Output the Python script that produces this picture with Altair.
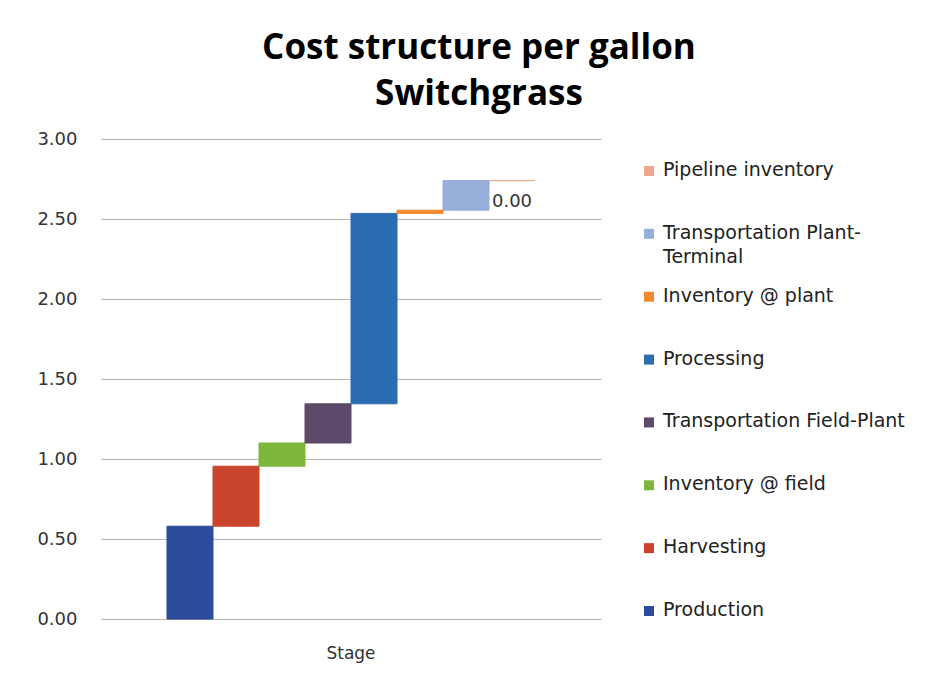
import altair as alt
import pandas as pd

# Cost components per gallon (USD), in processing order
series = [
    "Production",
    "Harvesting",
    "Inventory @ field",
    "Transportation Field-Plant",
    "Processing",
    "Inventory @ plant",
    "Transportation Plant-Terminal",
    "Pipeline inventory",
]
costs = [0.58, 0.375, 0.145, 0.245, 1.19, 0.02, 0.185, 0.00]
colors = ["#2b4b9b", "#c8442c", "#7db83c", "#5d4a6a", "#2c6cb0", "#f3892e", "#97aed9", "#f0a68e"]
legend_labels = [
    "Production",
    "Harvesting",
    "Inventory @ field",
    "Transportation Field-Plant",
    "Processing",
    "Inventory @ plant",
    "Transportation Plant-\nTerminal",
    "Pipeline inventory",
]

# Waterfall: each bar starts where the previous one ended
starts, ends, running = [], [], 0.0
for c in costs:
    starts.append(running)
    running += c
    ends.append(running)

df = pd.DataFrame({
    "stage": "Stage",
    "series": series,
    "cost": costs,
    "start": starts,
    "end": ends,
    "label": legend_labels,
})

FONT = "DejaVu Sans"
color_scale = alt.Scale(domain=series, range=colors)

x_enc = alt.X(
    "stage:N",
    title=None,
    scale=alt.Scale(paddingInner=0, paddingOuter=0.1793),
    axis=alt.Axis(labelAngle=0, ticks=False, domain=False, labelPadding=26,
                  labelFontSize=17, labelColor="#333333", labelFont=FONT),
)
xoff_enc = alt.XOffset("series:N", sort=series,
                       scale=alt.Scale(paddingInner=0, paddingOuter=0))

bars = alt.Chart(df).mark_bar(strokeWidth=1).encode(
    x=x_enc,
    xOffset=xoff_enc,
    y=alt.Y(
        "start:Q",
        title=None,
        scale=alt.Scale(domain=[0, 3], nice=False),
        axis=alt.Axis(values=[0, 0.5, 1, 1.5, 2, 2.5, 3], format=".2f",
                      ticks=False, domain=False, labelPadding=24,
                      labelFontSize=18, labelColor="#333333", labelFont=FONT,
                      gridColor="#b4b4b4", gridWidth=1),
    ),
    y2="end:Q",
    color=alt.Color("series:N", scale=color_scale, legend=None),
    stroke=alt.Color("series:N", scale=color_scale, legend=None),
)

value_label = alt.Chart(df).transform_filter(
    alt.datum.series == "Pipeline inventory"
).mark_text(font=FONT, fontSize=18, color="#333333", baseline="middle", dy=21).encode(
    x=x_enc,
    xOffset=xoff_enc,
    y="end:Q",
    text=alt.Text("cost:Q", format=".2f"),
)

main = alt.layer(bars, value_label).properties(width=500, height=480)

legend_order = list(reversed(series))
legend_y = alt.Y("series:N", sort=legend_order, axis=None,
                 scale=alt.Scale(type="point", range=[32, 472], padding=0))

legend_sq = alt.Chart(df).mark_square(size=100, opacity=1).encode(
    x=alt.value(28),
    y=legend_y,
    color=alt.Color("series:N", scale=color_scale, legend=None),
)
legend_txt = alt.Chart(df).mark_text(
    font=FONT, fontSize=19, color="#222222", align="left", baseline="top",
    dy=-10, lineBreak="\n", lineHeight=24,
).encode(
    x=alt.value(42),
    y=legend_y,
    text="label:N",
)
legend_panel = alt.layer(legend_sq, legend_txt).properties(width=300, height=480)

chart = alt.hconcat(main, legend_panel, spacing=20).properties(
    title=alt.TitleParams(
        ["Cost structure per gallon", "Switchgrass"],
        font="Open Sans", fontSize=35, fontWeight="bold", color="#000000",
        lineHeight=46, anchor="middle", offset=18,
    ),
    padding={"left": 36, "top": 31, "right": 5, "bottom": 5},
).configure(background="white", view=alt.ViewConfig(stroke=None))

chart.save("out.html", embed_options={"renderer": "svg", "actions": False})
